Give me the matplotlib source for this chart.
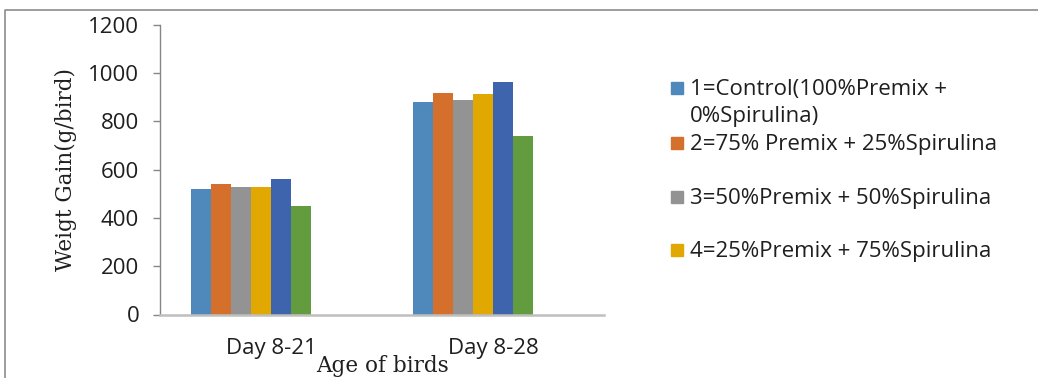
import numpy as np
import matplotlib.pyplot as plt
from matplotlib.patches import Rectangle
from matplotlib.lines import Line2D

# weight gain (g/bird) per treatment, for each age period
periods = ['Day 8-21', 'Day 8-28']
gain_t1 = [520, 882]
gain_t2 = [543, 917]
gain_t3 = [529, 888]
gain_t4 = [529, 912]
gain_t5 = [562, 963]
gain_t6 = [448, 738]
series = [gain_t1, gain_t2, gain_t3, gain_t4, gain_t5, gain_t6]
colors = ['#4F88BB', '#D4702C', '#939393', '#E0A800', '#3D64AD', '#639B3F']
legend_labels = ['1=Control(100%Premix +\n0%Spirulina)',
                 '2=75% Premix + 25%Spirulina',
                 '3=50%Premix + 50%Spirulina',
                 '4=25%Premix + 75%Spirulina']

W, H = 1038, 378
fig = plt.figure(figsize=(W / 100, H / 100), dpi=100)
ax = fig.add_axes([160 / W, (H - 314.5) / H, 444 / W, 289.5 / H])

sans = 'Open Sans'
serif = 'DejaVu Serif'

x = np.arange(len(periods))
n_slots = 8
bar_w = 0.09
start = -n_slots * bar_w / 2
for i, vals in enumerate(series):
    ax.bar(x + start + (i + 0.5) * bar_w, vals, width=bar_w, color=colors[i],
           edgecolor='none', zorder=2)

ax.set_xlim(-0.5, 1.5)
ax.set_ylim(0, 1200)
ax.set_yticks(np.arange(0, 1201, 200))
ax.set_xticks(x)
ax.set_xticklabels(periods)

for s in ['top', 'right']:
    ax.spines[s].set_visible(False)
ax.spines['left'].set_color('#868686')
ax.spines['left'].set_linewidth(1.0)
ax.spines['bottom'].set_color('#BFBFBF')
ax.spines['bottom'].set_linewidth(1.8)

ax.tick_params(axis='y', length=5, width=1.0, color='#868686', pad=10,
               labelsize=16, labelcolor='#1f1f1f')
ax.tick_params(axis='x', length=0, pad=17, labelsize=16, labelcolor='#1f1f1f')
for lab in ax.get_xticklabels() + ax.get_yticklabels():
    lab.set_fontfamily(sans)

ax.set_ylabel('Weigt Gain(g/bird)', fontfamily=serif, fontsize=15.5,
              color='#1f1f1f', labelpad=8)
ax.set_xlabel('Age of birds', fontfamily=serif, fontsize=15.5,
              color='#1f1f1f', labelpad=-3)

# legend drawn by hand: square swatch and label lines for each visible entry
ys = [88.3, 143.3, 196.7, 250.0]
line_h = 27
for lbl, col, yc in zip(legend_labels, colors, ys):
    fig.patches.append(Rectangle((671 / W, (H - yc - 6) / H), 12 / W, 12 / H,
                                 transform=fig.transFigure, color=col))
    for k, part in enumerate(lbl.split('\n')):
        fig.text(690 / W, (H - yc - 7 - k * line_h) / H, part, fontfamily=sans,
                 fontsize=16, color='#1f1f1f', va='baseline', ha='left')

# outer chart border (right and bottom edges fall outside the image)
fig.lines.append(Line2D([5 / W, 5 / W, 1.0], [0, (H - 10) / H, (H - 10) / H],
                        transform=fig.transFigure, color='#8C8C8C', lw=1.2))

fig.savefig('out.png', dpi=100)
